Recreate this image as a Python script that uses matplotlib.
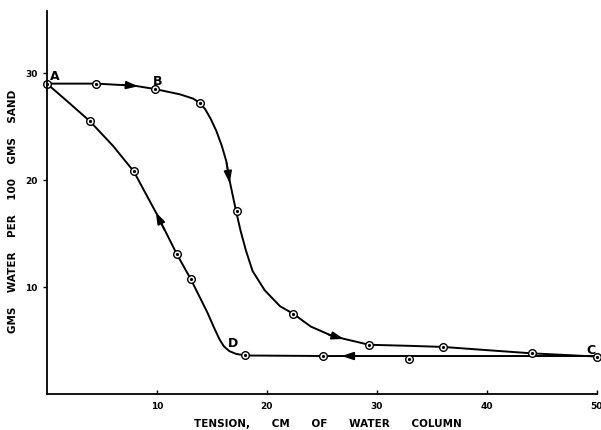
import matplotlib
matplotlib.use("Agg")
import matplotlib.pyplot as plt

# measured points, drainage (A -> B -> C)
drain_x = [0, 4.5, 9.8, 13.9, 17.3, 22.4, 29.3, 36.0, 44.1, 50.0]
drain_y = [29.0, 29.0, 28.5, 27.2, 17.1, 7.5, 4.6, 4.4, 3.8, 3.5]

# measured points, wetting (C -> D -> A)
wet_x = [32.9, 25.1, 18.0, 13.1, 11.8, 7.9, 3.9]
wet_y = [3.3, 3.55, 3.65, 10.7, 13.1, 20.8, 25.5]

# hand-drawn curves
drain_curve_x = [0, 4.5, 8.0, 9.8, 12.1, 13.3, 13.9, 14.4, 14.9, 15.4, 15.9,
                 16.3, 16.6, 17.2, 17.6, 18.1, 18.7, 19.8, 21.2, 22.4, 24.0,
                 26.0, 29.3, 33.0, 36.0, 40.0, 44.1, 50.0]
drain_curve_y = [29.0, 29.0, 28.8, 28.5, 28.0, 27.6, 27.2, 26.6, 25.7, 24.6, 23.2,
                 21.8, 20.0, 17.1, 15.3, 13.4, 11.5, 9.7, 8.2, 7.5, 6.3,
                 5.4, 4.6, 4.5, 4.4, 4.1, 3.8, 3.5]
wet_curve_x = [50.0, 32.9, 25.1, 18.0, 17.2, 16.6, 16.1, 15.7, 15.2, 14.6,
               13.1, 11.8, 10.0, 9.0, 7.9, 6.0, 3.9, 1.8, 0]
wet_curve_y = [3.55, 3.55, 3.55, 3.6, 3.75, 4.0, 4.45, 5.1, 6.2, 7.6,
               10.7, 13.1, 16.8, 18.7, 20.8, 23.2, 25.5, 27.4, 29.0]

# arrow heads (tip, tail)
arrows = [
    ((8.3, 28.75), (6.8, 28.9)),
    ((16.62, 19.7), (16.35, 21.6)),
    ((9.9, 17.0), (10.7, 15.3)),
    ((27.0, 5.15), (25.6, 5.55)),
    ((26.8, 3.55), (28.4, 3.55)),
]

point_labels = ["A", "B", "C", "D"]
label_x = [0.7, 10.1, 49.5, 16.9]
label_y = [29.8, 29.3, 4.2, 4.8]

fig = plt.figure(figsize=(6.01, 4.31), dpi=100)
ax = fig.add_axes([0.078, 0.0835, 0.915, 0.889])

ax.plot(drain_curve_x, drain_curve_y, color="black", lw=1.4,
        solid_joinstyle="round")
ax.plot(wet_curve_x, wet_curve_y, color="black", lw=1.4,
        solid_joinstyle="round")

for xs, ys in [(drain_x, drain_y), (wet_x, wet_y)]:
    ax.plot(xs, ys, "o", ms=5.5, mfc="white", mec="black", mew=1.0, clip_on=False)
    ax.plot(xs, ys, "o", ms=1.3, color="black", clip_on=False)

for tip, tail in arrows:
    ax.annotate("", xy=tip, xytext=tail,
                arrowprops=dict(arrowstyle="-|>,head_length=0.6,head_width=0.2",
                                color="black", lw=1.2,
                                mutation_scale=12, shrinkA=0, shrinkB=0))

for t, lx, ly in zip(point_labels, label_x, label_y):
    ax.text(lx, ly, t, fontsize=9, fontweight="bold", ha="center", va="center")

ax.set_xlim(0, 50)
ax.set_ylim(0, 35.8)
ax.set_xticks([10, 20, 30, 40, 50])
ax.set_yticks([10, 20, 30])
ax.tick_params(labelsize=6.5, length=3, width=1)
ax.tick_params(axis="x", direction="in", pad=5)
for lbl in ax.get_xticklabels() + ax.get_yticklabels():
    lbl.set_fontweight("bold")
ax.spines["top"].set_visible(False)
ax.spines["right"].set_visible(False)
ax.spines["left"].set_linewidth(1.3)
ax.spines["bottom"].set_linewidth(1.3)

fig.text(328 / 601, 1 - 424 / 431,
         "TENSION,      CM      OF      WATER      COLUMN",
         fontsize=7.5, fontweight="bold", ha="center", va="center")
fig.text(13 / 601, 1 - 211 / 431,
         "GMS    WATER    PER    100    GMS    SAND",
         fontsize=7.5, fontweight="bold", ha="center", va="center",
         rotation=90)

fig.savefig("out.png", dpi=100)
